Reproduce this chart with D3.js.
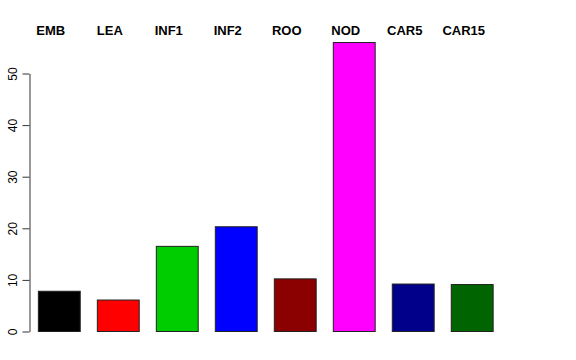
<!DOCTYPE html>
<html lang="en">
	<head>
		<meta charset="UTF-8" />
		<script src="https://cdnjs.cloudflare.com/ajax/libs/d3/7.8.5/d3.min.js"></script>
		<title>barplot</title>
		<style>
			body { margin: 0; background: #fff; }
			svg { display: block; font-family: 'Liberation Sans', Arial, sans-serif; }
		</style>
	</head>
	<body>
		<div class="chart"></div>

		<script>
			// data
			const categories = ['EMB', 'LEA', 'INF1', 'INF2', 'ROO', 'NOD', 'CAR5', 'CAR15']
			const values = [7.8, 6.1, 16.5, 20.3, 10.2, 56.0, 9.2, 9.1]
			const barColors = ['#000000', '#ff0000', '#00cd00', '#0000ff', '#8b0000', '#ff00ff', '#00008b', '#006400']
			const yTicks = [0, 10, 20, 30, 40, 50]

			const svgWidth = 576
			const svgHeight = 360

			const svg = d3
				.select('.chart')
				.append('svg')
				.attr('width', svgWidth)
				.attr('height', svgHeight)

			// x: one band per category
			const xScale = d3
				.scaleBand()
				.domain(categories)
				.range([29.5, 502])
				.paddingInner(0.29)
				.paddingOuter(0.15)

			// y: 0 at the bottom of the plot
			const yScale = d3.scaleLinear().domain([0, 50]).range([331.5, 73.5])

			const yAxis = svg
				.append('g')
				.attr('transform', 'translate(29.5, 0)')
				.call(d3.axisLeft(yScale).tickValues(yTicks).tickSize(7).tickSizeOuter(0))

			yAxis.select('.domain').attr('stroke', '#333')
			yAxis.selectAll('.tick line').attr('stroke', '#333')
			yAxis
				.selectAll('.tick text')
				.attr('x', 0)
				.attr('dy', 0)
				.attr('transform', 'translate(-12.5,0) rotate(-90)')
				.style('text-anchor', 'middle')
				.style('font-size', '12px')
				.style('font-family', "'Liberation Sans', Arial, sans-serif")
				.attr('fill', '#000')

			// bars
			svg
				.selectAll('rect.bar')
				.data(categories)
				.join('rect')
				.attr('class', 'bar')
				.attr('x', d => xScale(d))
				.attr('y', (d, i) => yScale(values[i]))
				.attr('width', xScale.bandwidth())
				.attr('height', (d, i) => yScale(0) - yScale(values[i]))
				.attr('fill', (d, i) => barColors[i])
				.attr('stroke', '#222')
				.attr('stroke-width', 1)

			// category labels along the top
			svg
				.selectAll('text.cat')
				.data(categories)
				.join('text')
				.attr('class', 'cat')
				.attr('x', d => xScale(d) + xScale.bandwidth() / 2 - 8.5)
				.attr('y', 34.5)
				.style('text-anchor', 'middle')
				.style('font-size', '13px')
				.style('font-weight', 'bold')
				.attr('fill', '#000')
				.text(d => d)
		</script>
	</body>
</html>
